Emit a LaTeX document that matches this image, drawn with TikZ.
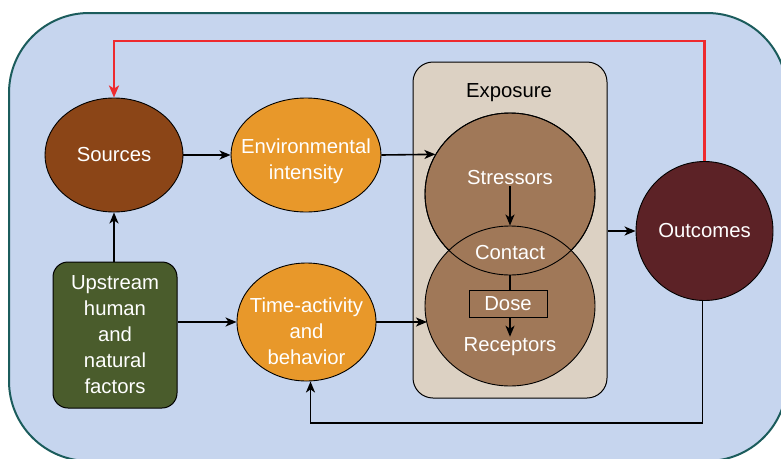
\documentclass[tikz,border=0pt]{standalone}
\usepackage{fontspec}
\setmainfont{Liberation Sans}
\usetikzlibrary{shapes.geometric,arrows.meta,calc}

\definecolor{bgfill}{HTML}{C6D5EE}
\definecolor{bgline}{HTML}{1B5C5C}
\definecolor{srcfill}{HTML}{8B4517}
\definecolor{orangefill}{HTML}{E8982A}
\definecolor{greenfill}{HTML}{4A5C2C}
\definecolor{expofill}{HTML}{DCD1C3}
\definecolor{ballfill}{HTML}{A07858}
\definecolor{outfill}{HTML}{5C2226}
\definecolor{loopred}{HTML}{EE2A2E}

\tikzset{
  txt/.style={font=\fontsize{20.3}{26}\selectfont, align=center},
  oval/.style={ellipse, draw=black, line width=0.9pt, inner sep=0pt},
  lbl/.style={txt, text=white, inner sep=1pt},
  arr/.style={line width=1.6pt, -{Stealth[length=11pt,width=9pt,inset=3pt]}},
  plain/.style={line width=1.6pt},
  feedback/.style={line width=2.2pt, draw=loopred, -{Stealth[length=12pt,width=10pt,inset=3pt]}}
}

\begin{document}
\begin{tikzpicture}[x=1pt,y=-1pt]
\useasboundingbox (0,0) rectangle (781,458);
\clip (0,0) rectangle (781,458);

% outer frame
\draw[fill=bgfill, draw=bgline, line width=2pt, rounded corners=80pt] (9,13) rectangle (787,461);

% exposure panel
\node[draw=black, line width=1pt, fill=expofill, rounded corners=20pt,
      minimum width=194pt, minimum height=336pt, inner sep=0pt] (expo) at (510,230) {};
\node[txt, text=black, inner sep=1pt] (expoT) at (509,93) {Exposure};

% overlapping stressor / receptor discs
\node[oval, fill=ballfill, minimum width=170pt, minimum height=162pt] (str) at (510,194) {};
\node[oval, fill=ballfill, minimum width=170pt, minimum height=160pt] (rec) at (510,306) {};
\draw[line width=0.9pt] (str.center) ellipse [x radius=85, y radius=81];

\node[lbl] (strT) at (510,178) {Stressors};
\node[lbl] (conT) at (510,253) {Contact};
\node[draw=black, line width=1pt, minimum width=78pt, minimum height=27pt, inner sep=0pt,
      txt, text=white] (dose) at (508,303.5) {Dose};
\node[lbl] (recT) at (510,347) {Receptors};

% main nodes
\node[oval, fill=srcfill, minimum width=138pt, minimum height=114pt] (src) at (114,155) {};
\node[lbl] (srcT) at (114,155) {Sources};
\node[oval, fill=orangefill, minimum width=150pt, minimum height=114pt] (env) at (306,155) {};
\node[lbl] (envT) at (306,161) {Environmental\\intensity};
\node[oval, fill=orangefill, minimum width=139pt, minimum height=118pt] (time) at (306.5,322) {};
\node[lbl] (timeT) at (306.5,331) {Time-activity\\and\\behavior};
\node[draw=black, line width=1pt, fill=greenfill, rounded corners=15pt, minimum width=124pt,
      minimum height=146pt, inner sep=0pt, txt, text=white] (up) at (115,335)
      {Upstream\\human\\and\\natural\\factors};
\node[oval, fill=outfill, minimum width=137pt, minimum height=139pt] (out) at (704.5,231) {};
\node[lbl] (outT) at (704.5,231) {Outcomes};

\coordinate (topY) at (0,41);
\coordinate (lowY) at (0,423);

% connectors
\draw[arr] (src.east) -- (env.west);
\draw[arr] (env.east) -- (str.152.4);
\draw[arr] (up.north -| src.south) -- (src.south);
\draw[arr] (up.east |- time.east) -- (time.west);
\draw[arr] (time.east) -- (time.east -| rec.193);
\draw[arr] (expo.east |- out.west) -- (out.west);
\draw[arr] (strT.south) -- (rec.north);
\draw[plain] (str.south) -- (str.south |- dose.north);
\draw[arr] (dose.south -| recT.north) -- (recT.north);
\draw[arr] ([xshift=-2pt]out.south) -- ([xshift=-2pt]out.south |- lowY) -| ([xshift=4pt]time.south);
\draw[feedback] (out.north) -- (out.north |- topY) -| (src.north);
\end{tikzpicture}
\end{document}
